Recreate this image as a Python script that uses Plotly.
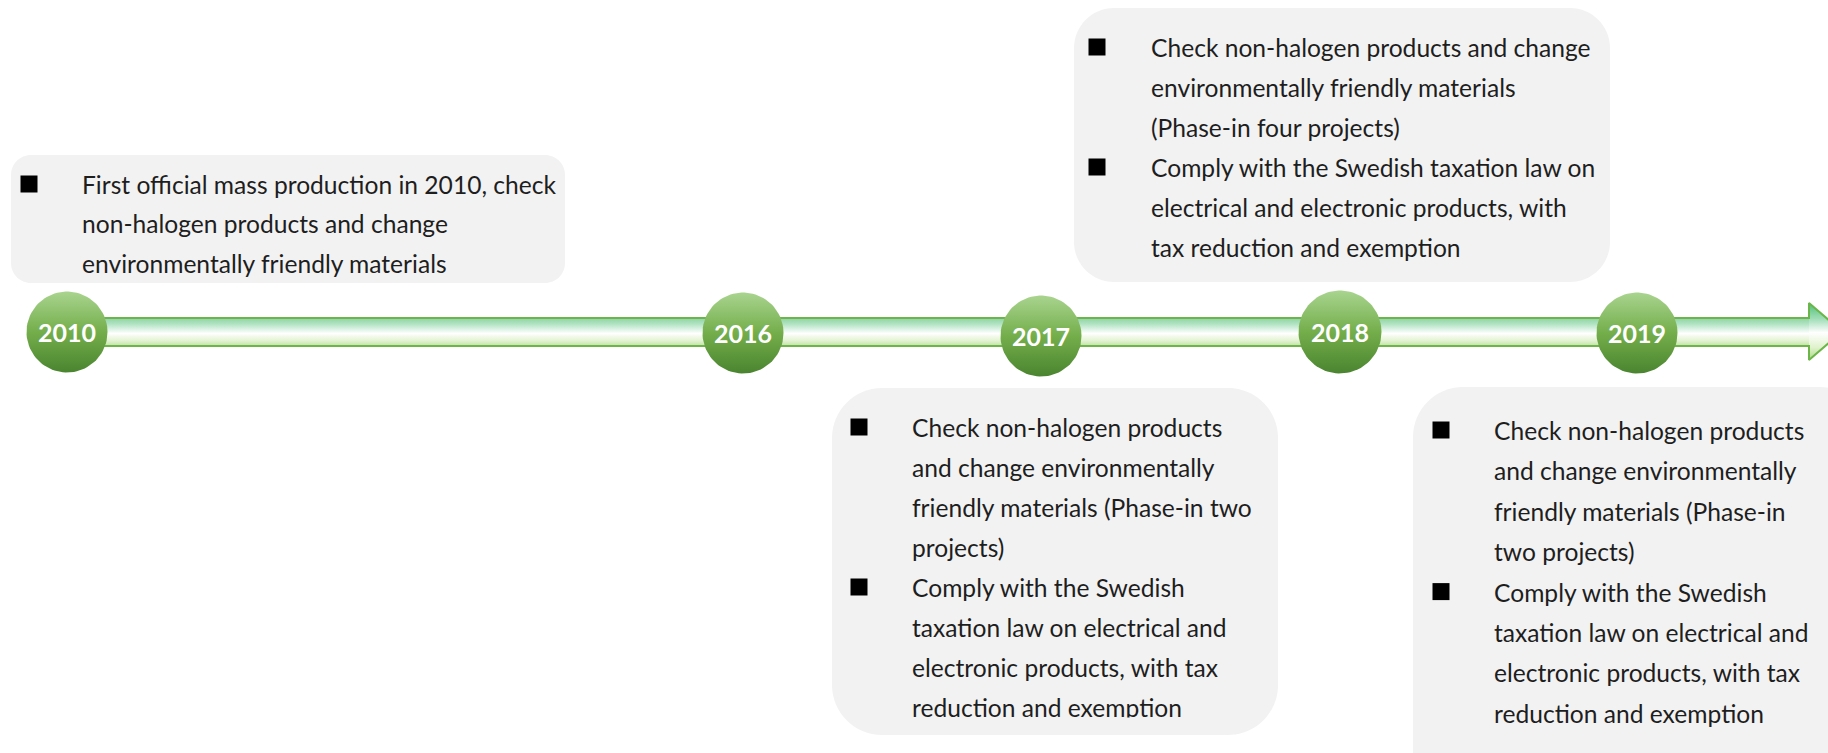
import math
import plotly.graph_objects as go

# ---------------- data ----------------
years = ["2010", "2016", "2017", "2018", "2019"]

items_2010 = [
    "First official mass production in 2010, check\nnon-halogen products and change\nenvironmentally friendly materials",
]
items_2017 = [
    "Check non-halogen products\nand change environmentally\nfriendly materials (Phase-in two\nprojects)",
    "Comply with the Swedish\ntaxation law on electrical and\nelectronic products, with tax\nreduction and exemption",
]
items_2018 = [
    "Check non-halogen products and change\nenvironmentally friendly materials\n(Phase-in four projects)",
    "Comply with the Swedish taxation law on\nelectrical and electronic products, with\ntax reduction and exemption",
]
items_2019 = [
    "Check non-halogen products\nand change environmentally\nfriendly materials (Phase-in\ntwo projects)",
    "Comply with the Swedish\ntaxation law on electrical and\nelectronic products, with tax\nreduction and exemption",
]

# ---------------- layout (pixel space) ----------------
W, H = 1828, 753
node_x = [67, 743, 1041, 1340, 1637]
node_y = [332, 333, 336, 332, 333]
node_r = [40.5, 40.5, 40.5, 41.5, 40.5]

BODY_FS = 24.6
YEAR_FS = 25
FONT = "Lato"
TEXT_COLOR = "#1e1e1e"
BOX_COLOR = "#f2f2f2"

# items, box (x0, y0, x1, y1, r), bullet x, text x, first baseline, line step, clip-bottom
callouts = [
    (items_2010, (11, 155, 565, 283, 20), 29, 82, 194, 39.5, None),
    (items_2017, (832, 388, 1278, 735, 50), 859, 912, 437, 40.0, 717),
    (items_2018, (1074, 8, 1610, 282, 40), 1097, 1151, 57, 40.0, None),
    (items_2019, (1413, 387, 1870, 800, 50), 1441, 1494, 440, 40.4, None),
]

band_x0, band_x1 = 67, 1809
band_y0, band_y1 = 318, 346
head_y0, head_y1, head_tip = 303, 360, 1842
mid_y = (head_y0 + head_y1) / 2


def rrect(x0, y0, x1, y1, r):
    k = 0.5523 * r
    return (
        f"M{x0 + r},{y0} L{x1 - r},{y0} C{x1 - r + k},{y0} {x1},{y0 + r - k} {x1},{y0 + r} "
        f"L{x1},{y1 - r} C{x1},{y1 - r + k} {x1 - r + k},{y1} {x1 - r},{y1} "
        f"L{x0 + r},{y1} C{x0 + r - k},{y1} {x0},{y1 - r + k} {x0},{y1 - r} "
        f"L{x0},{y0 + r} C{x0},{y0 + r - k} {x0 + r - k},{y0} {x0 + r},{y0} Z"
    )


fig = go.Figure()

# arrow band (gradient fill)
fig.add_trace(go.Scatter(
    x=[band_x0, band_x1 + 1, band_x1 + 1, band_x0, band_x0],
    y=[band_y0, band_y0, band_y1, band_y1, band_y0],
    mode="lines", line=dict(width=0), fill="toself",
    fillgradient=dict(type="vertical", start=band_y0, stop=band_y1,
                      colorscale=[[0, "#8fd3a6"], [0.2, "#aee2c0"], [0.55, "#ffffff"],
                                  [0.8, "#e3f3d3"], [1, "#c2e3a4"]]),
    hoverinfo="skip", showlegend=False))

# arrow head (gradient fill)
fig.add_trace(go.Scatter(
    x=[band_x1, head_tip, band_x1, band_x1],
    y=[head_y0, mid_y, head_y1, head_y0],
    mode="lines", line=dict(width=0), fill="toself",
    fillgradient=dict(type="vertical", start=head_y0, stop=head_y1,
                      colorscale=[[0, "#4fbf78"], [0.3, "#a8e0bd"], [0.52, "#ffffff"],
                                  [0.78, "#e0f2cc"], [1, "#a9d985"]]),
    hoverinfo="skip", showlegend=False))

# arrow outline
fig.add_trace(go.Scatter(
    x=[band_x0, band_x1, band_x1, head_tip, band_x1, band_x1, band_x0],
    y=[band_y0, band_y0, head_y0, mid_y, head_y1, band_y1, band_y1],
    mode="lines", line=dict(color="#6cb649", width=2),
    hoverinfo="skip", showlegend=False))

# year circles (gradient-filled discs)
N = 90
for cx, cy, r in zip(node_x, node_y, node_r):
    xs = [cx + r * math.cos(2 * math.pi * i / N) for i in range(N + 1)]
    ys = [cy + r * math.sin(2 * math.pi * i / N) for i in range(N + 1)]
    fig.add_trace(go.Scatter(
        x=xs, y=ys, mode="lines", line=dict(width=0), fill="toself",
        fillgradient=dict(type="vertical", start=cy - r, stop=cy + r,
                          colorscale=[[0, "#a9d48f"], [0.5, "#74ae4b"], [1, "#4a842f"]]),
        hoverinfo="skip", showlegend=False))

# year labels
fig.add_trace(go.Scatter(
    x=node_x, y=[y + 0.11 * YEAR_FS + 1 for y in node_y], mode="text",
    text=years, textposition="middle center",
    textfont=dict(family=FONT, size=YEAR_FS, color="white", weight="bold"),
    hoverinfo="skip", showlegend=False))

shapes = []
bx, by = [], []
for items, (x0, y0, x1, y1, r), bullet_x, text_x, base0, step, clip in callouts:
    shapes.append(dict(type="path", path=rrect(x0, y0, x1, y1, r), xref="x", yref="y",
                       fillcolor=BOX_COLOR, line=dict(width=0), layer="below"))
    lx, ly, lt = [], [], []
    n = 0
    for item in items:
        lines = item.split("\n")
        bx.append(bullet_x)
        by.append(base0 + n * step - 10)
        for ln in lines:
            lx.append(text_x)
            ly.append(base0 + n * step - 0.25 * BODY_FS)
            lt.append(ln)
            n += 1
    fig.add_trace(go.Scatter(
        x=lx, y=ly, text=lt, mode="text", textposition="middle right",
        textfont=dict(family=FONT, size=BODY_FS, color=TEXT_COLOR),
        hoverinfo="skip", showlegend=False))
    if clip is not None:
        shapes.append(dict(type="rect", xref="x", yref="y", x0=x0 + r, x1=x1 - r,
                           y0=clip + 0.5, y1=y1 - 1, fillcolor=BOX_COLOR,
                           line=dict(width=0), layer="above"))

# bullets
fig.add_trace(go.Scatter(
    x=bx, y=by, mode="markers",
    marker=dict(symbol="square", size=17, color="black", line=dict(width=0)),
    hoverinfo="skip", showlegend=False))

fig.update_layout(
    width=W, height=H,
    margin=dict(l=0, r=0, t=0, b=0, pad=0),
    paper_bgcolor="white", plot_bgcolor="white",
    showlegend=False,
    shapes=shapes,
    xaxis=dict(range=[0, W], visible=False, fixedrange=True),
    yaxis=dict(range=[H, 0], visible=False, fixedrange=True),
)

fig.write_html(
    "out.html",
    config={"displayModeBar": False},
    post_script="document.body.style.margin='0';document.body.style.overflow='hidden';",
)
